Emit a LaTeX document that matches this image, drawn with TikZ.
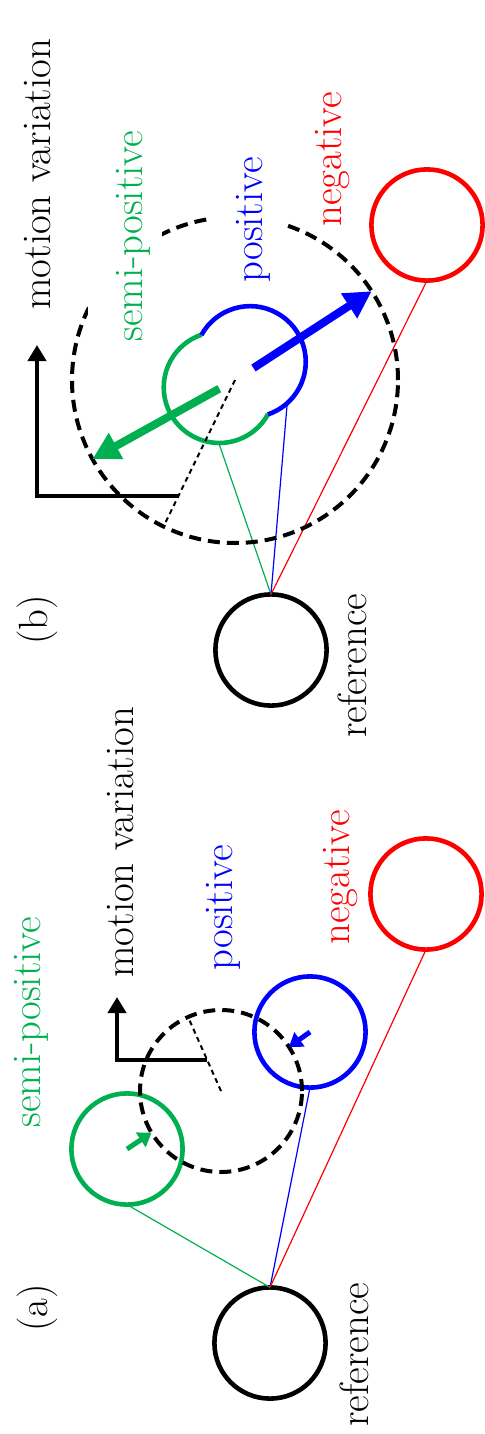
\documentclass[tikz,border=0pt]{standalone}
\usepackage{tikz}
\usetikzlibrary{arrows.meta,calc}
\definecolor{semigreen}{HTML}{00B050}
\definecolor{posblue}{HTML}{0000FF}
\definecolor{negred}{HTML}{FF0000}

\begin{document}
\begin{tikzpicture}[
  x=0.5pt, y=0.5pt,
  font=\rmfamily\fontsize{20.4pt}{24pt}\selectfont,
  ball/.style={circle, draw=#1, line width=2.3pt, minimum size=55.6pt, inner sep=0pt, outer sep=0pt},
  ghost/.style={circle, minimum size=55.6pt, inner sep=0pt, outer sep=0pt},
  ring/.style={circle, draw, dash pattern=on 6pt off 3.5pt, line width=2pt, minimum size=#1, inner sep=0pt, outer sep=0pt},
  rline/.style={dash pattern=on 2.5pt off 2pt, line width=1pt},
  axisline/.style={{Triangle[length=8pt, width=9pt]}-, line width=2pt},
  bigarrow/.style={-{Triangle[length=13.5pt, width=14pt]}, line width=4pt},
  smallarrow/.style={-{Triangle[length=6.5pt, width=8.5pt]}, line width=2.5pt},
  thinline/.style={line width=0.6pt},
  lbl/.style={rotate=90, anchor=base west, inner sep=0pt, text=#1},
  lbl/.default=black,
  lblmask/.style={lbl=#1, fill=white, inner xsep=0pt, inner ysep=0pt, text height=27pt, text depth=10pt},
  panel/.style={rotate=90, inner sep=0pt},
]
\useasboundingbox (0,0) rectangle (485,-1434);

% (b)
\node[ball=negred] (negB) at (427,-225) {};
\node[ball=black] (refB) at (271,-650) {};
\node[ghost] (semiB) at (219,-388) {};
\node[ghost] (posB) at (250,-362) {};
\draw[semigreen, line width=2.3pt] (semiB.-28.7) arc[start angle=-28.7, end angle=-251.3, radius=55.6];
\draw[posblue, line width=2.3pt] (posB.151.3) arc[start angle=151.3, end angle=-71.3, radius=55.6];
\draw[thinline, semigreen] (semiB.south) -- (refB.north);
\draw[thinline, posblue] (posB.-48) -- (refB.north);
\draw[thinline, negred] (negB.south) -- (refB.north);
\node[ring=163pt] (ringB) at (235,-380) {};
\draw[rline] (ringB.center) -- (ringB.244.1);
\coordinate (radB) at ($(ringB.center)!0.79!(ringB.244.1)$);
\coordinate (topB) at (37,-345);
\draw[axisline] (topB) |- (radB);
\draw[bigarrow, posblue] ($(ringB.center)!0.135!(ringB.33.7)$) -- (ringB.33.7);
\draw[bigarrow, semigreen] ($(ringB.center)!0.11!(ringB.209.9)$) -- (ringB.209.9);
\node[lbl] (mvB) at (50,-310) {motion variation};
\node[lblmask=semigreen] (semiBtxt) at (142,-342) {semi-positive};
\node[lblmask=posblue] (posBtxt) at (262,-283) {positive};
\node[lbl=negred] (negBtxt) at (341,-227) {negative};
\node[lbl] (refBtxt) at (366,-738) {reference};
\node[panel] (tagB) at (37,-620) {(b)};

% (a)
\node[ball=semigreen] (semiA) at (127,-1149) {};
\node[ball=posblue] (posA) at (310,-1032) {};
\node[ball=negred] (negA) at (426,-894) {};
\node[ball=black] (refA) at (270,-1343) {};
\draw[thinline, semigreen] (semiA.south) -- (refA.north);
\draw[thinline, posblue] (posA.south) -- (refA.north);
\draw[thinline, negred] (negA.south) -- (refA.north);
\node[ring=81pt] (ringA) at (221,-1091) {};
\draw[rline] (ringA.center) -- (ringA.114.4);
\coordinate (radA) at ($(ringA.center)!0.42!(ringA.114.4)$);
\coordinate (topA) at (117,-997);
\draw[axisline] (topA) |- (radA);
\draw[smallarrow, semigreen] (semiA.center) -- (ringA.211.7);
\draw[smallarrow, posblue] (posA.center) -- (ringA.33.5);
\node[lbl] (mvA) at (133,-978) {motion variation};
\node[lbl=semigreen] (semiAtxt) at (40,-1128) {semi-positive};
\node[lbl=posblue] (posAtxt) at (232,-971) {positive};
\node[lbl=negred] (negAtxt) at (349,-945) {negative};
\node[lbl] (refAtxt) at (368,-1427) {reference};
\node[panel] (tagA) at (37,-1308) {(a)};
\end{tikzpicture}
\end{document}
